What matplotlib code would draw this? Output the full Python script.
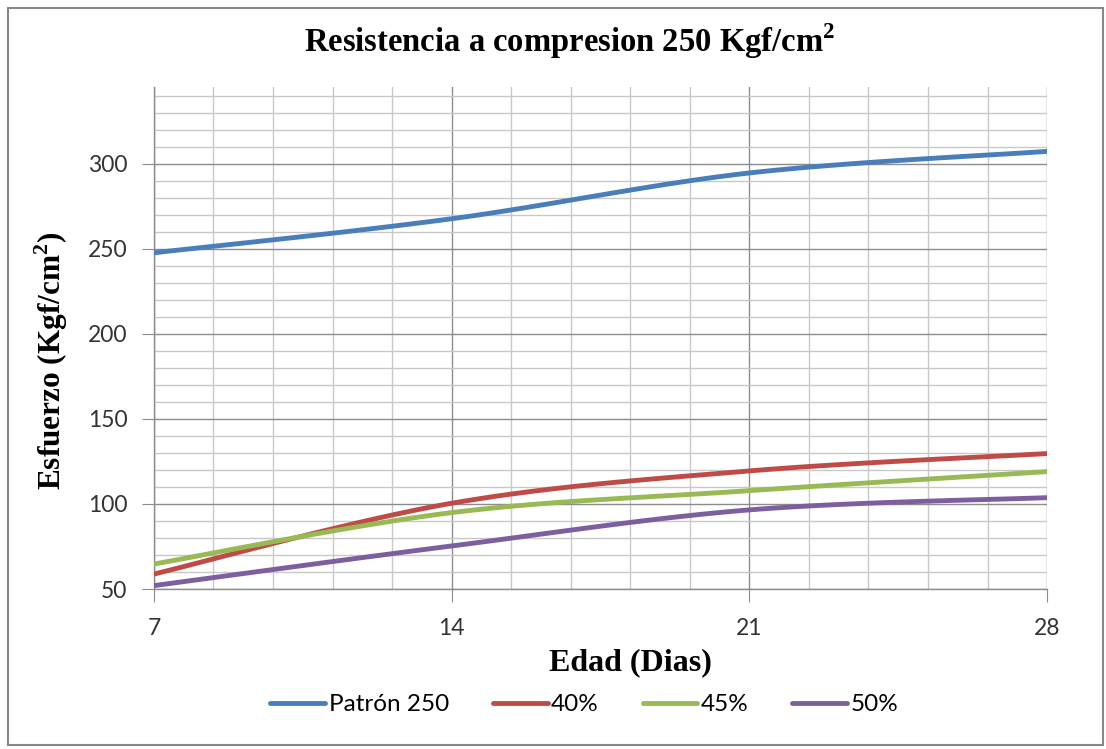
import numpy as np
import matplotlib
matplotlib.use("Agg")
import matplotlib.pyplot as plt
from matplotlib.patches import Rectangle
from matplotlib.ticker import MultipleLocator

# ---- data ----
dias = [7, 14, 21, 28]
patron = [247.6, 267.6, 294.5, 307.2]
p40 = [58.8, 100.4, 119.4, 129.6]
p45 = [64.7, 94.9, 107.8, 119.0]
p50 = [52.0, 75.3, 96.5, 103.7]
series_names = ["Patrón 250", "40%", "45%", "50%"]
series_vals = [patron, p40, p45, p50]
colors = ["#4a7ebb", "#be4b48", "#98b954", "#7d5fa0"]


def smooth(x, y, n=40):
    """Excel-like smoothed line (Catmull-Rom Bezier) through the data points."""
    x = np.asarray(x, float)
    y = np.asarray(y, float)
    px = np.concatenate([[x[0]], x, [x[-1]]])
    py = np.concatenate([[y[0]], y, [y[-1]]])
    xs, ys = [], []
    t = np.linspace(0, 1, n)
    for i in range(len(x) - 1):
        p0 = np.array([px[i], py[i]]); p1 = np.array([px[i + 1], py[i + 1]])
        p2 = np.array([px[i + 2], py[i + 2]]); p3 = np.array([px[i + 3], py[i + 3]])
        c1 = p1 + (p2 - p0) / 6.0
        c2 = p2 - (p3 - p1) / 6.0
        b = ((1 - t) ** 3)[:, None] * p1 + (3 * (1 - t) ** 2 * t)[:, None] * c1 + \
            (3 * (1 - t) * t ** 2)[:, None] * c2 + (t ** 3)[:, None] * p2
        xs.append(b[:, 0]); ys.append(b[:, 1])
    return np.concatenate(xs), np.concatenate(ys)


fig = plt.figure(figsize=(11.06, 7.49), dpi=100)
fig.patches.append(Rectangle((0.007, 0.005), 0.99, 0.984, transform=fig.transFigure,
                             fill=False, edgecolor="#888888", linewidth=1.5))
ax = fig.add_axes([0.1392, 0.2136, 0.8075, 0.6702])

for name, vals, c in zip(series_names, series_vals, colors):
    sx, sy = smooth(dias, vals)
    ax.plot(sx, sy, color=c, linewidth=3.5, solid_capstyle="round", label=name, zorder=3)

ax.set_xlim(7, 28)
ax.set_ylim(50, 345)
ax.xaxis.set_major_locator(MultipleLocator(7))
ax.xaxis.set_minor_locator(MultipleLocator(1.4))
ax.yaxis.set_major_locator(MultipleLocator(50))
ax.yaxis.set_minor_locator(MultipleLocator(10))
ax.grid(which="minor", color="#c8c8c8", linewidth=1.0, zorder=0)
ax.grid(which="major", color="#8c8c8c", linewidth=1.0, zorder=1)
ax.set_axisbelow(True)

for s in ["top", "right"]:
    ax.spines[s].set_visible(False)
for s in ["left", "bottom"]:
    ax.spines[s].set_color("#8c8c8c")
    ax.spines[s].set_linewidth(1.0)

ax.tick_params(which="major", direction="out", length=9, color="#8c8c8c",
               labelsize=16.5, labelcolor="#333333", pad=10)
ax.tick_params(axis="x", which="major", pad=12)
ax.tick_params(which="minor", length=0)
for lbl in ax.get_xticklabels() + ax.get_yticklabels():
    lbl.set_fontfamily("Lato")

fig.text(0.515, 0.945, "Resistencia a compresion 250 Kgf/cm$^{\\mathregular{2}}$",
         ha="center", va="center", fontsize=23.5, fontweight="bold",
         fontfamily="Liberation Serif")
ax.set_ylabel("Esfuerzo (Kgf/cm$^{\\mathregular{2}}$)", fontsize=22.5, fontweight="bold",
              fontfamily="Liberation Serif")
ax.yaxis.set_label_coords(-0.094, 0.454)
ax.set_xlabel("Edad (Dias)", fontsize=23, fontweight="bold",
              fontfamily="Liberation Serif")
ax.xaxis.set_label_coords(0.533, -0.117)

leg = fig.legend(loc="center", bbox_to_anchor=(0.5285, 0.059), ncol=4, frameon=False,
                 prop={"family": "Lato", "size": 17.5}, handlelength=2.25,
                 handletextpad=0.15, columnspacing=1.8)
for h in leg.legend_handles:
    h.set_linewidth(3.5)

fig.savefig("out.png", dpi=100)
